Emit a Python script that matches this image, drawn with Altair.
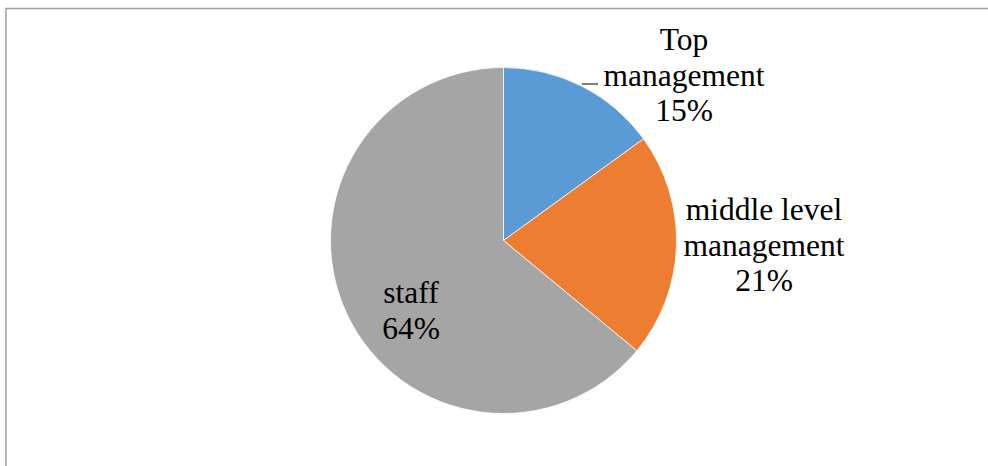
import altair as alt
import pandas as pd

# Staff composition shares (percent)
categories = ["Top management", "middle level management", "staff"]
label_lines = [["Top", "management"], ["middle level", "management"], ["staff"]]
shares = [15, 21, 64]
colors = ["#5B9BD5", "#ED7D31", "#A5A5A5"]

df = pd.DataFrame({
    "category": categories,
    "share": shares,
    "order": list(range(len(categories))),
})

W, H = 988, 466
CX, CY, R = 503.5, 240.5, 173
FONT = "Liberation Serif, DejaVu Serif"

pie = alt.Chart(df).mark_arc(
    outerRadius=R, stroke="white", strokeWidth=0.75
).encode(
    theta=alt.Theta("share:Q", stack=True),
    order=alt.Order("order:Q"),
    color=alt.Color("category:N", scale=alt.Scale(domain=categories, range=colors), legend=None),
    x=alt.value(CX),
    y=alt.value(CY),
)

# Label anchor points (first baseline) for each slice
anchors = [(684, 50), (764, 220), (411, 303)]

labels = []
for i, (cx, cy) in enumerate(anchors):
    sub = df.iloc[[i]].copy()
    sub["text"] = [label_lines[i] + [f"{shares[i]}%"]]
    labels.append(
        alt.Chart(sub).mark_text(
            font=FONT, fontSize=31.5, lineHeight=35.5, align="center",
            baseline="alphabetic", color="#000000"
        ).encode(text="text", x=alt.value(cx), y=alt.value(cy))
    )

leader = alt.Chart(df.iloc[[0]]).mark_rule(color="#262626", strokeWidth=1.2).encode(
    x=alt.value(582), x2=alt.value(598), y=alt.value(84), y2=alt.value(84)
)

frame = alt.Chart(df.iloc[[0]]).mark_rect(
    fill=None, stroke="#A0A0A0", strokeWidth=1.5
).encode(x=alt.value(6), y=alt.value(8.5), x2=alt.value(1010), y2=alt.value(500))

chart = alt.layer(frame, pie, leader, *labels).properties(
    width=W, height=H, padding=0, autosize=alt.AutoSizeParams(type="none"),
    background="white",
).configure_view(stroke=None)

chart.save("out.html", embed_options={"renderer": "svg", "actions": False})
